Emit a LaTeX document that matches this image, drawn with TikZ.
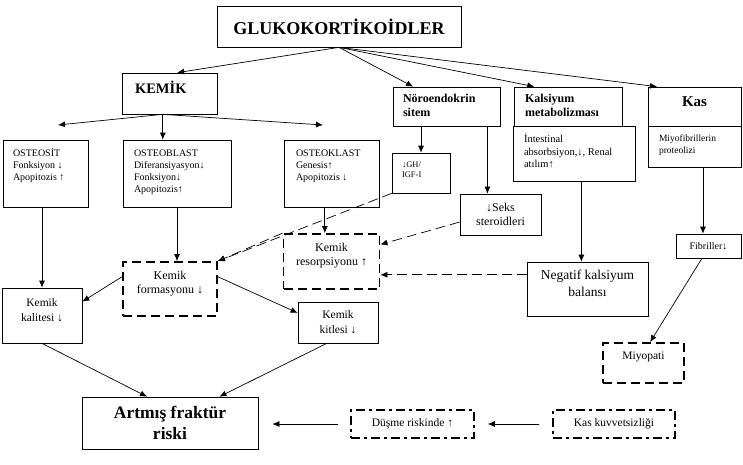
\documentclass[tikz,border=0pt]{standalone}
\usepackage{fontspec}
\setmainfont{Liberation Serif}
\usetikzlibrary{arrows.meta,calc,positioning}
\newcommand{\tcell}[4]{\parbox[c][#2pt][t]{#1pt}{\vspace*{#3pt}#4}}
\newcommand{\fs}[2]{\fontsize{#1}{#2}\selectfont}

\begin{document}
\begin{tikzpicture}[x=1pt,y=-1pt,
  box/.style={draw,line width=0.7pt,inner sep=0pt,align=center},
  dbox/.style={box,line width=1.8pt,dash pattern=on 9pt off 5pt},
  ddbox/.style={box,line width=1.5pt,dash pattern=on 9pt off 4pt on 3pt off 4pt},
  arr/.style={-{Latex[length=7pt,width=6pt]},line width=0.7pt},
  darr/.style={arr,dash pattern=on 10pt off 5pt}]
  \useasboundingbox (0,0) rectangle (743,464);
  % top level
  \node[box,minimum width=244pt,minimum height=41pt,font=\fs{18}{21}\bfseries] (glu) at (339,26.5) {GLUKOKORTİKOİDLER};
  \node[box,inner xsep=13pt,font=\fs{14.5}{17}\bfseries] (kemik) at (169.5,93.5) {\tcell{69}{41}{8}{\raggedright\strut KEMİK}};
  \node[box,inner xsep=10pt,font=\fs{12}{14}\bfseries] (nor) at (446.5,106.5) {\tcell{87}{39}{6}{\raggedright\strut Nöroendokrin\\sitem}};
  \node[box,inner xsep=11pt,font=\fs{12}{14}\bfseries] (kal) at (568,106.5) {\tcell{86}{39}{6}{\raggedright\strut Kalsiyum\\metabolizması}};
  \node[box,font=\fs{15}{18}\bfseries] (kas) at (694.5,106.5) {\tcell{93}{39}{6.4}{\centering\strut Kas}};
  \node[box,inner xsep=11pt,font=\fs{10.5}{12.5}] (int) at (574,153.5) {\tcell{100}{55}{8}{\raggedright\strut İntestinal\\absorbsiyon,↓, Renal\\atılım↑}};
  \node[box,inner xsep=11pt,font=\fs{9.5}{12}] (miy) at (694.5,146.5) {\tcell{71}{41}{7.5}{\raggedright\strut Miyofibrillerin\\proteolizi}};
  \node[box,inner xsep=10pt,font=\fs{8.5}{10}] (gh) at (421,173) {\tcell{38}{40}{7.5}{\raggedright\strut ↓GH/\\IGF-I}};
  \node[box,minimum width=81pt,minimum height=41pt,font=\fs{12}{14}] (seks) at (500.5,214.5) {↓Seks\\steroidleri};
  % bone cells
  \node[box,inner xsep=10pt,font=\fs{10}{12}] (ost) at (45.5,173.5) {\tcell{65}{67}{7.6}{\raggedright\strut OSTEOSİT\\Fonksiyon ↓\\Apopitozis ↑}};
  \node[box,inner xsep=11pt,font=\fs{10}{12}] (obl) at (177,173.5) {\tcell{86}{67}{7.6}{\raggedright\strut OSTEOBLAST\\Diferansiyasyon↓\\Fonksiyon↓\\Apopitozis↑}};
  \node[box,inner xsep=12pt,font=\fs{10}{12}] (okl) at (331.5,173.5) {\tcell{71}{67}{7.6}{\raggedright\strut OSTEOKLAST\\Genesis↑\\Apopitozis ↓}};
  \node[dbox,font=\fs{12}{14}] (res) at (331.5,261.5) {\tcell{96}{55}{8}{\centering\strut Kemik\\resorpsiyonu ↑}};
  \node[dbox,font=\fs{12}{13.5}] (form) at (170,289) {\tcell{94}{54}{8.5}{\centering\strut Kemik\\formasyonu ↓}};
  \node[box,font=\fs{11.5}{15}] (kalite) at (42,315.5) {\tcell{80}{55}{7.5}{\centering\strut Kemik\\kalitesi ↓}};
  \node[box,minimum width=80pt,minimum height=41pt,font=\fs{11.5}{15}] (kit) at (338,322.5) {Kemik\\kitlesi ↓};
  \node[box,font=\fs{13.5}{17}] (neg) at (587.5,289) {\tcell{121}{54}{6}{\centering\strut Negatif kalsiyum\\balansı}};
  \node[box,minimum width=65pt,minimum height=24pt,font=\fs{10}{12}] (fib) at (708.5,246) {Fibriller↓};
  \node[dbox,font=\fs{11.5}{14}] (myo) at (643.5,363) {\tcell{81}{40}{7}{\centering\strut Miyopati}};
  % outcome
  \node[box,minimum width=176pt,minimum height=52pt,font=\fs{17.5}{21}\bfseries] (art) at (170,423) {Artmış fraktür\\riski};
  \node[ddbox,minimum width=123pt,minimum height=28pt,font=\fs{11.5}{14}] (dus) at (412.5,424) {Düşme riskinde ↑};
  \node[ddbox,minimum width=122pt,minimum height=28pt,font=\fs{11.5}{14}] (kk) at (614,424) {Kas kuvvetsizliği};

  \draw[arr] (glu.south) -- ($(kemik.north west)!0.58!(kemik.north east)$);
  \draw[arr] (glu.south) -- ($(nor.north west)!0.19!(nor.north east)$);
  \draw[arr] (glu.south) -- ($(kal.north west)!0.19!(kal.north east)$);
  \draw[arr] (glu.south) -- ($(kas.north west)!0.1!(kas.north east)$);

  \coordinate (kem-b) at ($(kemik.south west)!0.43!(kemik.south east)$);
  \coordinate (ost-in) at (58,125);
  \coordinate (okl-in) at (323,125);
  \draw[arr] (kem-b) -- (ost-in);
  \draw[arr] (kem-b) -- (okl-in);
  \draw[arr] (kem-b) -- (kem-b |- obl.north);

  \draw[arr] (kalite.north |- ost.south) -- (kalite.north);
  \draw[arr] (obl.south) -- (obl.south |- form.north);
  \coordinate (okl-b) at ($(okl.south west)!0.43!(okl.south east)$);
  \draw[arr] (okl-b) -- (okl-b |- res.north);
  \draw[arr] (gh.north |- nor.south) -- (gh.north);
  \coordinate (nor-b) at ($(nor.south west)!0.88!(nor.south east)$);
  \draw[arr] (nor-b) -- (nor-b |- seks.north);
  \coordinate (int-b) at ($(int.south west)!0.56!(int.south east)$);
  \draw[arr] (int-b) -- (int-b |- neg.north);
  \coordinate (miy-b) at ($(miy.south west)!0.59!(miy.south east)$);
  \draw[arr] (miy-b) -- (miy-b |- fib.north);
  \draw[arr] ($(fib.south west)!0.4!(fib.south east)$) -- ($(myo.north west)!0.58!(myo.north east)$);

  \draw[arr] ($(form.north west)!0.28!(form.south west)$) -- ($(kalite.north east)!0.25!(kalite.south east)$);
  \draw[arr] ($(form.north east)!0.28!(form.south east)$) -- ($(kit.north west)!0.27!(kit.south west)$);
  \draw[darr] (res.north west) -- (form.north east);
  \draw[darr] (gh.south west) -- (form.north east);
  \draw[darr] ($(seks.north west)!0.68!(seks.south west)$) -- ($(res.north east)!0.2!(res.south east)$);
  \coordinate (neg-w) at ($(neg.north west)!0.24!(neg.south west)$);
  \draw[darr] (neg-w) -- (neg-w -| res.east);

  \draw[arr] (kalite.south) -- ($(art.north west)!0.37!(art.north east)$);
  \draw[arr] ($(kit.south west)!0.36!(kit.south east)$) -- ($(art.north west)!0.78!(art.north east)$);
  \draw[arr,shorten <=12pt,shorten >=14pt] (dus.west) -- (dus.west -| art.east);
  \draw[arr,shorten <=13pt,shorten >=13pt] (kk.west) -- (kk.west -| dus.east);
\end{tikzpicture}
\end{document}
